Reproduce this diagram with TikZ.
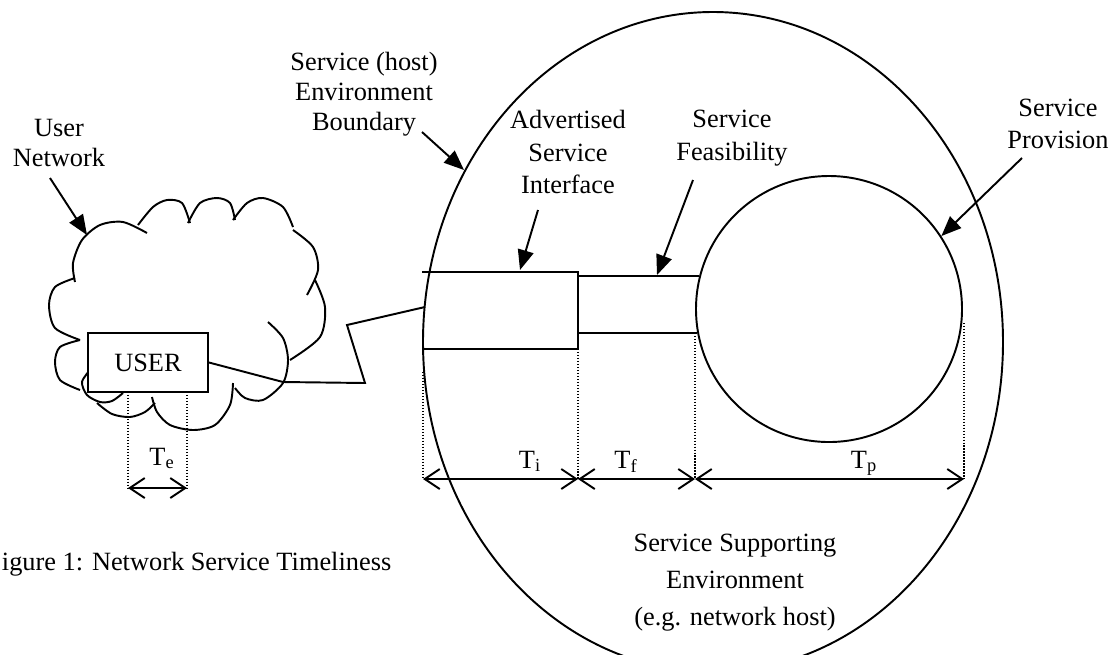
\documentclass[tikz,border=0pt]{standalone}
\usepackage{fontspec}
\setmainfont{Liberation Serif}
\usetikzlibrary{arrows}
\usetikzlibrary{arrows.meta}
\tikzset{>={Triangle[length=4mm,width=3.2mm]}}
\tikzset{
  dimarrow/.style={{Straight Barb[length=3mm,width=4mm]}-{Straight Barb[length=3mm,width=4mm]}},
  dotline/.style={densely dotted, line width=0.7pt},
  txt/.style={align=center},
}

\begin{document}
\begin{tikzpicture}[x=0.2mm,y=-0.2mm,line width=1.1pt,font=\fontsize{15}{17}\selectfont]
  \useasboundingbox (0,0) rectangle (1111,654);
  % Define variables
  \pgfmathsetmacro{\ydim}{479}  % level of the timing arrows
  \pgfmathsetmacro{\ye}{488}    % level of the user arrow

  % Service (host) environment boundary
  \draw (713,342) ellipse[x radius=290, y radius=330];

  % User network cloud
  \draw plot[smooth] coordinates {(75,282) (73,263) (82,240) (100,225) (123,222) (147,233)};
  \draw plot[smooth] coordinates {(138,225) (153,207) (167,200) (182,203) (190,223)};
  \draw plot[smooth] coordinates {(188,223) (200,203) (217,198) (230,203) (235,220)};
  \draw plot[smooth] coordinates {(233,220) (247,203) (263,198) (283,207) (293,227)};
  \draw plot[smooth] coordinates {(293,230) (313,247) (318,270) (307,295)};
  \draw plot[smooth] coordinates {(315,280) (325,307) (320,337) (290,360)};
  \draw plot[smooth] coordinates {(268,322) (283,338) (288,360) (283,383) (263,400) (245,398) (235,388)};
  \draw plot[smooth] coordinates {(233,383) (230,405) (215,425) (193,430) (170,425) (157,412) (152,397)};
  \draw plot[smooth] coordinates {(155,403) (145,412) (130,417) (112,414) (97,403)};
  \draw plot[smooth] coordinates {(123,393) (112,401) (100,402) (87,395) (82,382) (90,370)};
  \draw plot[smooth] coordinates {(80,340) (60,347) (55,362) (60,380) (80,390)};
  \draw plot[smooth] coordinates {(75,278) (55,287) (49,305) (55,328) (80,340)};

  % User box and its link to the interface
  \node[draw,fill=white,inner sep=0,minimum width=24mm,minimum height=11.8mm] (user) at (148,362.5) {USER};
  \coordinate (ifc) at (425,307);
  \draw (user.east) -- (283,382) -- (365,383) -- (347,325) -- (ifc);

  % Interface, feasibility and provision
  \draw (422,272) -- (578,272) -- (578,349) -- (424,349);
  \draw (699,276) -- (578,276) -- (578,333) -- (697,333);
  \node[circle,draw,inner sep=0,minimum size=53.2mm] (provision) at (829,309) {};

  % Labels
  \node[txt] (usernet) at (59,143) {User\\Network};
  \node[txt] (boundary) at (364,94) {Service (host)\\Environment\\Boundary};
  \node[txt] (advert) at (568,152) {Advertised\\[1.5pt]Service\\[1.5pt]Interface};
  \node[txt] (feas) at (732,138) {Service\\[1.5pt]Feasibility};
  \node[txt] (prov) at (1058,124) {Service\\[1.5pt]Provision};
  \node[txt] (sse) at (735,583) {Service Supporting\\[4pt]Environment\\[4pt](e.g. network host)};
  \node[anchor=base west,inner sep=0] (caption) at (1,570) {igure 1: Network Service Timeliness};

  % Pointer arrows
  \coordinate (net-a) at (50,178);    \coordinate (net-b) at (87,235);
  \coordinate (bnd-a) at (422,132);   \coordinate (bnd-b) at (464,170);
  \coordinate (adv-a) at (538,210);   \coordinate (adv-b) at (520,270);
  \coordinate (fea-a) at (693,180);   \coordinate (fea-b) at (657,275);
  \coordinate (pro-a) at (1022,158);
  \draw[->] (net-a) -- (net-b);
  \draw[->] (bnd-a) -- (bnd-b);
  \draw[->] (adv-a) -- (adv-b);
  \draw[->] (fea-a) -- (fea-b);
  \draw[->] (pro-a) -- (provision.33);

  % Timing guides
  \foreach \x/\ytop in {423/372, 578/349, 695/333, 964/323}
    \draw[dotline] (\x,\ytop) -- (\x,\ydim);
  \foreach \x in {128, 187}
    \draw[dotline] (\x,392) -- (\x,\ye);

  \draw[dimarrow] (423,\ydim) -- (578,\ydim);
  \draw[dimarrow] (578,\ydim) -- (695,\ydim);
  \draw[dimarrow] (695,\ydim) -- (964,\ydim);
  \draw[dimarrow] (128,\ye) -- (187,\ye);

  \node[anchor=base] (ti) at (530,468) {T\textsubscript{i}};
  \node[anchor=base] (tf) at (626,468) {T\textsubscript{f}};
  \node[anchor=base] (tp) at (864,468) {T\textsubscript{p}};
  \node[anchor=base] (te) at (162,465) {T\textsubscript{e}};
\end{tikzpicture}
\end{document}
